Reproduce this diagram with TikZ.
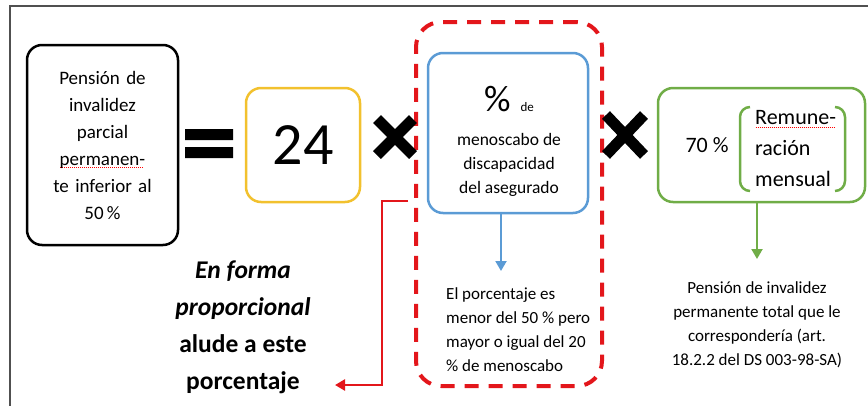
\documentclass[tikz,border=0pt]{standalone}
\usepackage{fontspec}
\setmainfont{Carlito}
\usetikzlibrary{arrows.meta}
\definecolor{amarillo}{HTML}{F2C12E}
\definecolor{azul}{HTML}{5B9BD5}
\definecolor{verde}{HTML}{70AD47}
\definecolor{rojo}{HTML}{E3161B}
\definecolor{marco}{HTML}{505050}
\newcommand{\fs}[2]{\fontsize{#1}{#2}\selectfont}
\newsavebox{\palabra}
\newcommand{\subraya}[1]{\leavevmode\sbox{\palabra}{#1}\rlap{\color{red}\raisebox{-3pt}{\hbox to \wd\palabra{\leaders\hbox to 2pt{\hss\rule{1.2pt}{0.8pt}\hss}\hfill}}}\usebox{\palabra}}
\tikzset{
  caja/.style={draw, rounded corners=15pt, line width=2.5pt, align=center, inner sep=0pt},
  flecha/.style={-{Triangle[length=10pt,width=11pt]}, line width=2pt}
}
\begin{document}
\begin{tikzpicture}[x=1pt,y=-1pt]
    \useasboundingbox (0,0) rectangle (868,405);
    \clip (0,0) rectangle (868,405);
    \draw[marco, line width=2pt] (10,6) rectangle (900,440);
    %pension parcial
    \node[caja, line width=2.5pt, minimum width=151pt, minimum height=200pt, text width=140pt, font=\fs{19}{27}] (pension) at (102.5,145)
      {Pensión de\\invalidez\\parcial\\\subraya{permanen-}\\te inferior al\\50\,\%};
    %igual
    \fill (185,129) rectangle (233,140) (185,147) rectangle (233,158);
    \node[caja, draw=amarillo, minimum width=114pt, minimum height=114pt, font=\fs{60}{60}] (veinticuatro) at (303,145) {24};
    %porcentaje de menoscabo
    \node[caja, draw=azul, minimum width=160pt, minimum height=160pt] (porcentaje) at (508,133) {};
    \node[align=center, inner sep=0pt, font=\fs{17.5}{24}] (menoscabo) at (509,141)
      {{\fs{37}{37}\%}\hspace{10pt}{\fs{13}{13}de}\\[10pt]menoscabo de\\discapacidad\\del asegurado};
    \node[draw=rojo, line width=4pt, dash pattern=on 14pt off 10pt, rounded corners=25pt,
      minimum width=186pt, minimum height=364pt] (recuadro) at (509,204) {};
    \node[anchor=north west, align=left, inner sep=0pt, font=\fs{17}{24}] (nota) at (446,287)
      {El porcentaje es\\menor del 50 \% pero\\mayor o igual del 20\\\% de menoscabo};
    \draw[flecha, azul, shorten >=16pt] (porcentaje.south -| 501,0) -- (nota.north -| 501,0);
    %remuneracion
    \node[caja, draw=verde, minimum width=207pt, minimum height=114pt] (remuneracion) at (761.5,145) {};
    \node[font=\fs{22}{22}] (setenta) at (707,145) {70 \%};
    \node[anchor=west, align=left, inner sep=0pt, font=\fs{22}{31}] (mensual) at (755,149)
      {\subraya{Remune-}\\ración\\mensual};
    \draw[verde, line width=2.5pt] (750,107) to[out=180,in=90] (740,117) -- (740,181) to[out=-90,in=180] (750,191)
      (835,107) to[out=0,in=90] (845,117) -- (845,181) to[out=-90,in=0] (835,191);
    \node[anchor=north, align=center, inner sep=0pt, font=\fs{17}{24}] (total) at (757,281)
      {Pensión de invalidez\\permanente total que le\\correspondería (art.\\18.2.2 del DS 003-98-SA)};
    \draw[flecha, verde, shorten >=22pt] (remuneracion.south -| 757,0) -- (total.north);
    %por
    \draw[line width=11pt] (377,119) -- (413,155) (377,155) -- (413,119);
    \draw[line width=11pt] (606,115) -- (644,155) (606,155) -- (644,115);
    %nota proporcional
    \node[align=center, font=\fs{25.5}{37}\bfseries] (alude) at (243,327)
      {\itshape En forma\\\itshape proporcional\\alude a este\\porcentaje};
    \coordinate (salida) at (408,201);
    \coordinate (llegada) at (335,385);
    \draw[flecha, rojo, line width=2.5pt] (salida) -- (382,201) |- (llegada);
  \end{tikzpicture}
\end{document}
